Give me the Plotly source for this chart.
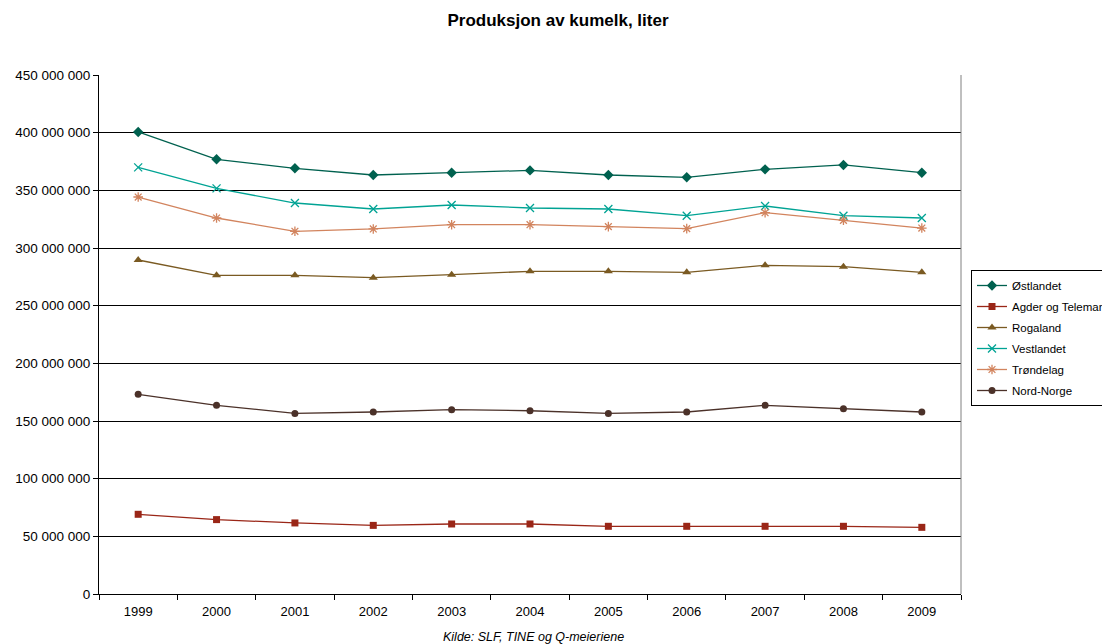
import plotly.graph_objects as go

years = ["1999", "2000", "2001", "2002", "2003", "2004", "2005", "2006", "2007", "2008", "2009"]

ostlandet = [400.6e6, 376.9e6, 369.1e6, 363.3e6, 365.3e6, 367.3e6, 363.3e6, 361.3e6, 368.2e6, 372.0e6, 365.3e6]
agder = [69.1e6, 64.5e6, 61.6e6, 59.5e6, 60.7e6, 60.7e6, 58.7e6, 58.7e6, 58.7e6, 58.7e6, 57.8e6]
rogaland = [289.6e6, 276.3e6, 276.3e6, 274.3e6, 276.9e6, 279.8e6, 279.8e6, 278.9e6, 285.0e6, 283.8e6, 278.9e6]
vestlandet = [369.9e6, 351.7e6, 339.0e6, 333.8e6, 337.3e6, 334.7e6, 333.8e6, 328.0e6, 336.4e6, 328.0e6, 326.0e6]
trondelag = [344.2e6, 326.0e6, 314.5e6, 316.5e6, 320.2e6, 320.2e6, 318.5e6, 316.8e6, 330.6e6, 324.0e6, 317.3e6]
nordnorge = [173.1e6, 163.6e6, 156.6e6, 157.8e6, 159.8e6, 158.9e6, 156.6e6, 157.8e6, 163.6e6, 160.7e6, 157.8e6]

series = [
    ("Østlandet", ostlandet, "#00614F", "diamond", 8, False),
    ("Agder og Telemark", agder, "#9A2617", "square", 7, False),
    ("Rogaland", rogaland, "#7A5A22", "triangle-up", 8, False),
    ("Vestlandet", vestlandet, "#00A394", "x-thin-open", 8, True),
    ("Trøndelag", trondelag, "#D2845E", "asterisk-open", 8, True),
    ("Nord-Norge", nordnorge, "#4B3129", "circle", 7, False),
]

fig = go.Figure()
for name, vals, color, sym, size, is_open in series:
    marker = dict(symbol=sym, size=size, color=color)
    if is_open:
        marker["line"] = dict(color=color, width=1.3)
    else:
        marker["line"] = dict(color=color, width=0)
    fig.add_trace(go.Scatter(
        x=years, y=vals, name=name, mode="lines+markers",
        line=dict(color=color, width=1.3), marker=marker,
        legendgroup=name,
    ))

# page body has an 8px margin, so the figure is drawn offset by (8, 8)
W, H = 1110, 636

fig.update_layout(
    width=W, height=H,
    paper_bgcolor="white", plot_bgcolor="white",
    font=dict(family="Arial, Liberation Sans, sans-serif", color="#000000"),
    margin=dict(l=91, r=W - 953, t=67, b=H - 586, autoexpand=False),
    separators=". ",
    title=dict(text="<b>Produksjon av kumelk, liter</b>", x=(558 - 99) / 862, xref="paper",
               y=1 - 12 / H, yref="container", xanchor="center", yanchor="middle",
               font=dict(size=17)),
    showlegend=True,
    legend=dict(x=(971 - 99) / 862, xanchor="left", y=(594 - 270) / 519, yanchor="top",
                bordercolor="#000000", borderwidth=1, bgcolor="white",
                font=dict(size=11.5), tracegroupgap=2, itemwidth=30),
    xaxis=dict(type="category", range=[-0.5, 10.5], showgrid=False,
               showline=True, linecolor="#000000", linewidth=1,
               ticks="outside", ticklen=5, tickcolor="#000000", tickson="boundaries",
               tickfont=dict(size=13), ticklabelstandoff=5),
    yaxis=dict(range=[0, 450e6], dtick=50e6, tickformat=",d",
               showgrid=True, gridcolor="#000000", gridwidth=1,
               showline=True, linecolor="#000000", linewidth=1,
               ticks="outside", ticklen=5, tickcolor="#000000",
               tickfont=dict(size=13.5), zeroline=False),
    annotations=[dict(text="<i>Kilde: SLF, TINE og Q-meieriene</i>", x=(533 - 99) / 862, xref="paper",
                      y=-(637 - 594) / 519, yref="paper", showarrow=False, xanchor="center",
                      yanchor="middle", font=dict(size=12.5))],
    shapes=[dict(type="line", xref="paper", yref="paper", x0=1, x1=1, y0=0, y1=1,
                 line=dict(color="#808080", width=1))],
)

fig.write_html("out.html")
